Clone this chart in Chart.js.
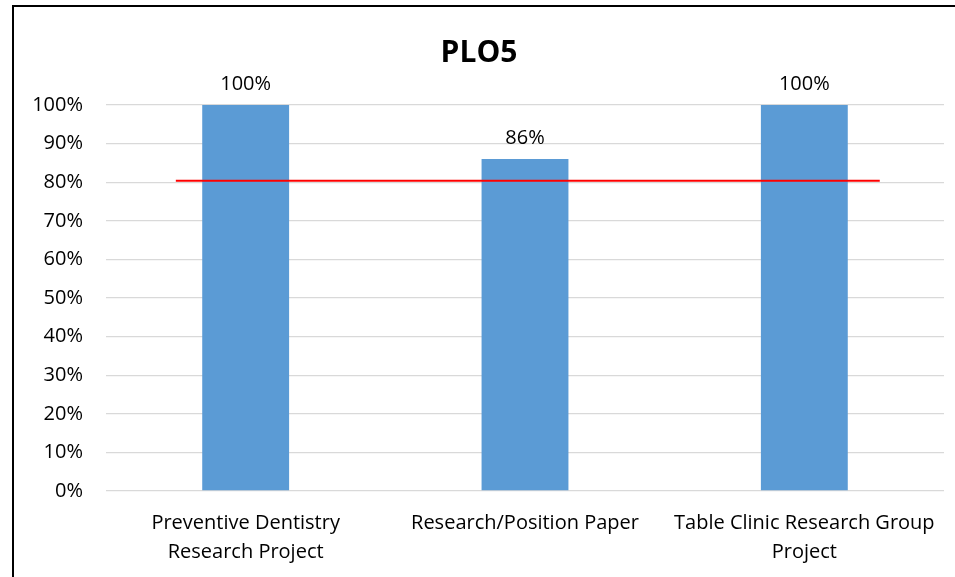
<!DOCTYPE html>
<html>
<head>
<meta charset="utf-8">
<script src="https://cdn.jsdelivr.net/npm/chart.js@4/dist/chart.umd.min.js"></script>
<style>
    html, body { margin: 0; padding: 0; background: #fff; overflow: hidden; }
    #wrap { position: relative; width: 955px; height: 577px; }
    #frame { position: absolute; left: 12px; top: 5px; width: 960px; height: 600px; border: 2px solid #000; box-sizing: border-box; }
    canvas { position: absolute; left: 0; top: 0; }
</style>
</head>
<body>
<div id="wrap">
    <div id="frame"></div>
    <canvas id="plo-chart" width="955" height="577"></canvas>
</div>
<script>
const categories = [
    ['Preventive Dentistry', 'Research Project'],
    'Research/Position Paper',
    ['Table Clinic Research Group', 'Project']
];
const scores = [100, 86, 100];
// target line: x positions on the category index scale, y in percent
const targetX = [-0.25, 2.27];
const targetY = [80.4, 80.4];
const yTicks = [0, 10, 20, 30, 40, 50, 60, 70, 80, 90, 100];

const FONT = "'Open Sans', sans-serif";

// draws "100%" etc. above each bar
const barLabels = {
    id: 'barLabels',
    afterDatasetsDraw(chart) {
        const ctx = chart.ctx;
        const meta = chart.getDatasetMeta(0);
        ctx.save();
        ctx.font = `20px ${FONT}`;
        ctx.fillStyle = '#000';
        ctx.textAlign = 'center';
        ctx.textBaseline = 'alphabetic';
        meta.data.forEach((bar, i) => {
            ctx.fillText(scores[i] + '%', bar.x, bar.y - 15);
        });
        ctx.restore();
    }
};

const ctx = document.getElementById('plo-chart').getContext('2d');
new Chart(ctx, {
    type: 'bar',
    data: {
        labels: categories,
        datasets: [
            {
                type: 'bar',
                data: scores,
                backgroundColor: '#5B9BD5',
                barPercentage: 0.311,
                categoryPercentage: 1,
                grouped: false,
                xAxisID: 'x',
                order: 2
            },
            {
                type: 'line',
                data: targetX.map((x, i) => ({ x: x, y: targetY[i] })),
                borderColor: '#FF0000',
                borderWidth: 2,
                pointRadius: 0,
                xAxisID: 'x2',
                order: 1
            }
        ]
    },
    options: {
        responsive: false,
        animation: false,
        layout: { padding: { left: 14, right: 11, top: 0, bottom: 0 } },
        plugins: {
            legend: { display: false },
            tooltip: { enabled: false },
            title: {
                display: true,
                text: 'PLO5',
                color: '#000',
                font: { family: FONT, size: 30, weight: 'bold' },
                padding: { top: 35, bottom: 34 }
            }
        },
        scales: {
            x: {
                offset: true,
                grid: { display: false },
                border: { display: false },
                ticks: {
                    color: '#000',
                    font: { family: FONT, size: 20, lineHeight: 1.45 },
                    padding: 10,
                    maxRotation: 0,
                    autoSkip: false
                },
                afterFit(scale) { scale.height = 86; }
            },
            x2: {
                type: 'linear',
                display: false,
                min: -0.5,
                max: 2.5,
                offset: false
            },
            y: {
                min: 0,
                max: 100,
                afterBuildTicks(scale) { scale.ticks = yTicks.map(v => ({ value: v })); },
                grid: { color: '#D9D9D9', lineWidth: 1.3, drawTicks: false },
                border: { display: false },
                ticks: {
                    color: '#000',
                    font: { family: FONT, size: 20 },
                    padding: 23,
                    callback: v => v + '%'
                },
                afterFit(scale) { scale.width = 92; }
            }
        }
    },
    plugins: [barLabels]
});
</script>
</body>
</html>
